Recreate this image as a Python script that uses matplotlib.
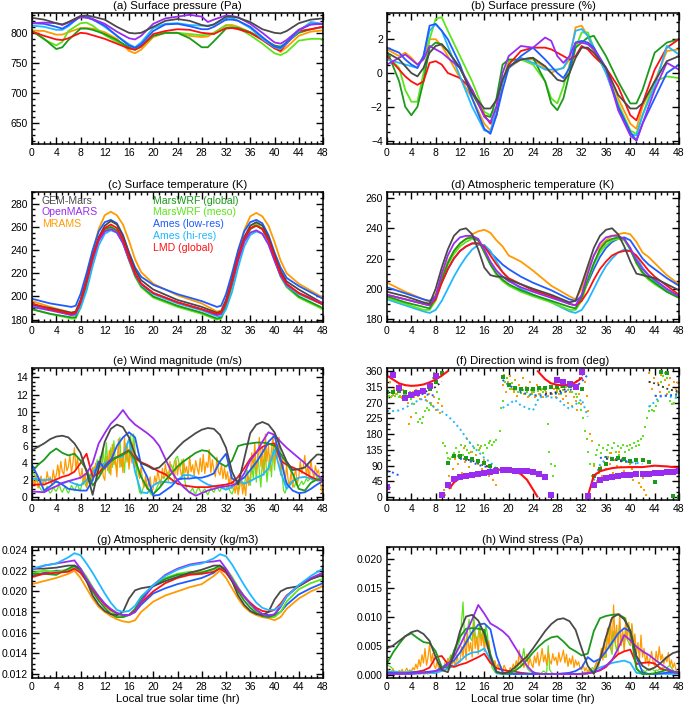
import numpy as np
import matplotlib
matplotlib.use("Agg")
import matplotlib.pyplot as plt
from matplotlib.ticker import AutoMinorLocator, FormatStrFormatter

plt.rcParams['font.family'] = ['Liberation Sans', 'DejaVu Sans']
plt.rcParams['font.size'] = 7.5

# model names and colours
models = ['GEM-Mars', 'OpenMARS', 'MRAMS', 'MarsWRF (global)', 'MarsWRF (meso)',
          'Ames (low-res)', 'Ames (hi-res)', 'LMD (global)']
c_gem, c_omars, c_mrams = '#4a4a4a', '#9a2cf0', '#ff9a00'
c_wrfg, c_wrfm = '#1b9a1b', '#5ce51c'
c_amesl, c_amesh, c_lmd = '#1f5cff', '#20b8ff', '#ff1010'

t1 = np.arange(0, 49, 1)        # hourly output
tq = np.arange(0, 48.1, 0.25)   # quarter-hourly output (mesoscale runs)

# (a) surface pressure (Pa)
psa_t = [0, 2, 4, 5, 6, 8, 9, 10, 12, 14, 16, 17, 18, 20, 22, 24, 26, 28, 29, 30, 32, 33, 34, 36, 38, 40, 41, 42, 44, 46, 48]
psa_gem = [825, 822, 816, 814, 818, 828, 829, 827, 822, 810, 800, 799, 800, 810, 820, 823, 820, 813, 811, 814, 827, 827, 825, 818, 806, 800, 799, 803, 816, 822, 824]
psa_omars = [816, 817, 816, 813, 817, 826, 825, 823, 815, 802, 791, 789, 795, 815, 824, 827, 830, 827, 818, 822, 829, 828, 826, 815, 800, 784, 782, 788, 805, 814, 815]
psa_mrams = [804, 803, 797, 797, 801, 808, 808, 807, 801, 790, 770, 766, 772, 793, 800, 800, 795, 793, 794, 800, 813, 813, 810, 801, 790, 776, 768, 776, 795, 802, 804]
psa_wrfg = [803, 790, 773, 776, 788, 807, 807, 805, 798, 788, 776, 772, 778, 795, 800, 800, 791, 776, 776, 786, 807, 808, 808, 801, 790, 779, 777, 784, 800, 806, 810]
psa_wrfm = [804, 789, 779, 785, 803, 816, 817, 812, 796, 785, 774, 772, 777, 795, 800, 800, 798, 796, 797, 800, 812, 811, 808, 796, 782, 766, 763, 768, 787, 790, 790]
psa_amesl = [816, 815, 810, 807, 813, 827, 826, 822, 812, 795, 779, 775, 781, 803, 814, 815, 811, 806, 806, 810, 822, 822, 820, 810, 793, 777, 775, 784, 805, 814, 815]
psa_amesh = [812, 810, 805, 805, 811, 828, 828, 823, 810, 795, 781, 776, 784, 808, 815, 816, 813, 812, 812, 814, 825, 825, 820, 808, 790, 776, 773, 783, 803, 818, 815]
psa_lmd = [802, 795, 789, 788, 791, 800, 799, 796, 790, 782, 774, 772, 777, 798, 803, 806, 805, 800, 799, 798, 808, 808, 806, 800, 788, 774, 770, 782, 803, 806, 810]

# (b) surface pressure (%)
psp_t = [0, 2, 3, 4, 5, 6, 7, 8, 9, 10, 12, 14, 16, 17, 18, 19, 20, 22, 24, 26, 27, 28, 29, 30, 31, 32, 33, 34, 36, 38, 40, 41, 42, 44, 46, 48]
psp_gem = [1.2, 0.8, 0.4, 0.0, -0.2, 0.3, 1.2, 1.6, 1.7, 1.3, 0.3, -1.2, -2.1, -2.1, -1.6, -0.4, 0.4, 0.8, 0.9, 0.4, 0.0, -0.4, -0.5, 0.0, 0.9, 1.5, 1.5, 1.2, 0.3, -1.3, -2.1, -2.1, -1.8, -0.5, 0.7, 1.0]
psp_omars = [0.5, 0.9, 1.1, 0.8, 0.5, 0.8, 1.6, 1.4, 1.2, 0.9, 0.3, -1.0, -2.6, -2.9, -2.0, 0.0, 1.0, 1.6, 1.5, 2.1, 1.9, 1.0, 0.6, 1.0, 1.8, 1.8, 1.7, 1.4, 0.3, -2.2, -3.7, -4.0, -3.0, -1.0, 0.6, 0.2]
psp_mrams = [1.4, 1.0, 1.2, 0.9, 0.5, 0.9, 2.0, 2.0, 1.6, 1.0, -0.3, -1.5, -3.0, -3.4, -2.5, -0.5, 0.3, 0.8, 0.8, 0.3, 0.0, 0.2, 0.3, 0.8, 2.7, 2.8, 2.2, 1.2, 0.3, -1.5, -3.0, -3.3, -2.0, -0.5, 1.3, 1.4]
psp_wrfg = [1.3, -0.5, -2.0, -2.5, -2.0, -0.5, 1.5, 1.8, 1.7, 1.3, 0.3, -1.2, -2.5, -2.6, -1.5, 0.5, 0.8, 0.8, 0.9, -0.5, -1.8, -2.2, -1.5, 0.0, 1.5, 1.8, 2.1, 2.2, 1.0, -0.5, -1.8, -1.8, -1.0, 1.2, 1.8, 2.0]
psp_wrfm = [1.0, 0.3, -1.0, -1.7, -1.7, 0.0, 2.0, 3.2, 3.3, 2.5, 1.0, -0.5, -2.3, -2.5, -2.0, -0.5, 0.7, 0.8, 0.5, -0.5, -1.5, -1.8, -0.8, 0.5, 1.5, 2.4, 2.4, 1.5, 0.0, -1.8, -3.4, -3.6, -2.5, -0.5, -0.2, -0.3]
psp_amesl = [1.5, 1.2, 0.8, 0.5, 0.3, 1.0, 2.8, 2.9, 2.5, 2.0, 0.5, -1.5, -3.3, -3.6, -2.5, -1.0, 0.3, 1.0, 1.5, 0.8, 0.4, 0.0, -0.3, 0.3, 1.8, 1.9, 1.8, 1.5, 0.3, -2.0, -3.5, -4.0, -3.0, -1.5, 0.0, 0.5]
psp_amesh = [0.8, 0.6, 0.5, 0.4, 0.3, 1.0, 2.5, 2.9, 2.5, 1.6, -0.2, -2.0, -3.4, -3.5, -2.0, -0.5, 0.3, 0.9, 0.6, 0.2, 0.2, 0.2, 0.3, 1.0, 2.5, 2.6, 2.2, 1.5, 0.0, -2.0, -3.6, -3.7, -2.5, -0.8, 1.6, 1.1]
psp_lmd = [1.0, 0.2, -0.2, -0.5, -0.7, -0.5, 0.6, 0.7, 0.5, 0.0, -0.3, -1.0, -2.5, -3.0, -2.5, -0.5, 0.5, 1.3, 1.5, 1.5, 1.4, 1.2, 1.0, 0.8, 1.0, 1.6, 1.4, 1.0, 0.3, -0.8, -2.5, -2.8, -1.8, 0.2, 1.5, 2.0]

# (c) surface temperature (K)
tsf_t = [0, 3, 6.5, 7.2, 8, 9, 10, 11, 12, 13, 14, 15, 16, 17, 18, 20, 24, 28, 30.5, 31.2, 32, 33, 34, 35, 36, 37, 38, 39, 40, 41, 42, 44, 48]
tsf_gem = [193, 190, 186, 187, 197, 215, 235, 251, 261, 265, 262, 252, 237, 223, 214, 206, 197, 191, 186, 187, 197, 215, 235, 251, 261, 264, 261, 251, 236, 222, 213, 206, 194]
tsf_omars = [191, 188, 184, 185, 195, 213, 232, 248, 256, 258, 255, 246, 232, 219, 211, 203, 195, 189, 184, 185, 195, 212, 231, 247, 255, 257, 254, 245, 231, 218, 210, 203, 194]
tsf_mrams = [196, 191, 186, 187, 196, 214, 238, 258, 270, 273, 270, 262, 248, 232, 221, 211, 201, 194, 187, 188, 197, 215, 238, 257, 269, 272, 269, 261, 247, 231, 220, 211, 199]
tsf_wrfg = [189, 185, 182, 182, 192, 211, 232, 249, 258, 260, 257, 247, 232, 218, 209, 200, 192, 186, 181, 182, 192, 211, 232, 248, 258, 261, 258, 248, 232, 218, 209, 200, 190]
tsf_wrfm = [189, 185, 181, 181, 190, 209, 231, 248, 257, 259, 256, 246, 231, 217, 208, 199, 191, 185, 180, 181, 190, 209, 231, 248, 258, 263, 258, 248, 232, 217, 208, 199, 189]
tsf_amesl = [198, 194, 191, 192, 202, 220, 240, 256, 264, 266, 263, 253, 238, 225, 217, 210, 202, 196, 191, 192, 202, 220, 240, 256, 264, 266, 263, 253, 238, 225, 216, 209, 198]
tsf_amesh = [192, 189, 184, 184, 190, 205, 226, 244, 254, 257, 255, 246, 232, 219, 210, 202, 194, 188, 183, 183, 189, 204, 225, 243, 253, 256, 254, 245, 231, 218, 209, 202, 193]
tsf_lmd = [194, 189, 185, 186, 195, 213, 234, 250, 259, 262, 259, 249, 234, 220, 211, 203, 195, 189, 185, 186, 195, 213, 234, 250, 259, 261, 258, 249, 234, 220, 211, 203, 193]

# (d) atmospheric temperature (K)
tat_t = [0, 3, 6, 7, 8, 9, 10, 11, 12, 13, 14, 15, 16, 17, 18, 19, 20, 22, 24, 27, 30, 31, 32, 33, 34, 35, 36, 37, 38, 39, 40, 41, 42, 43, 44, 46, 48]
tat_gem = [198, 195, 191, 190, 200, 214, 226, 235, 239, 240, 236, 226, 214, 209, 208, 208, 206, 203, 200, 196, 191, 192, 203, 215, 227, 235, 239, 240, 236, 228, 218, 210, 209, 208, 207, 203, 199]
tat_omars = [196, 193, 190, 189, 195, 210, 222, 230, 234, 235, 235, 233, 226, 218, 212, 208, 205, 201, 198, 194, 190, 189, 196, 210, 222, 230, 234, 235, 235, 233, 227, 219, 213, 209, 206, 200, 195]
tat_mrams = [204, 198, 193, 191, 196, 208, 218, 225, 230, 233, 236, 238, 239, 237, 232, 228, 222, 218, 212, 202, 195, 193, 200, 213, 222, 228, 232, 235, 236, 237, 236, 231, 224, 221, 217, 209, 203]
tat_wrfg = [195, 191, 188, 187, 194, 206, 217, 225, 230, 233, 234, 232, 224, 216, 210, 206, 203, 199, 196, 192, 188, 187, 194, 206, 217, 226, 231, 233, 234, 233, 226, 217, 211, 207, 204, 198, 194]
tat_wrfm = [194, 190, 186, 186, 192, 205, 216, 223, 228, 231, 233, 232, 225, 216, 209, 205, 202, 198, 195, 191, 186, 186, 192, 205, 216, 224, 229, 232, 233, 232, 226, 217, 210, 206, 203, 198, 194]
tat_amesl = [201, 197, 193, 192, 195, 204, 213, 220, 225, 228, 230, 230, 228, 224, 220, 216, 213, 208, 204, 199, 193, 192, 195, 204, 213, 221, 227, 231, 233, 234, 232, 226, 220, 216, 213, 207, 202]
tat_amesh = [193, 189, 185, 184, 186, 192, 200, 208, 215, 221, 226, 229, 229, 225, 218, 211, 206, 200, 196, 191, 185, 184, 186, 192, 200, 208, 215, 220, 224, 226, 225, 221, 214, 209, 205, 199, 195]
tat_lmd = [196, 193, 190, 189, 193, 204, 213, 220, 225, 228, 230, 230, 228, 222, 216, 211, 207, 203, 199, 195, 190, 189, 192, 198, 206, 213, 218, 222, 224, 225, 225, 222, 217, 212, 208, 202, 196]

# (e) wind magnitude (m/s): hourly, the two noisy runs quarter-hourly
wnd_gem = [5.5, 5.9, 6.3, 6.8, 7.1, 7.2, 7.0, 6.3, 5.2, 3.0, 0.3, 3.5, 6.5, 8.0, 8.5, 8.2, 7.0, 5.0, 4.0, 3.7, 3.3, 3.5, 4.2, 5.0, 5.8, 6.5, 7.0, 7.5, 7.9, 8.1, 8.0, 7.3, 5.8, 3.0, 1.5, 4.5, 7.5, 8.5, 8.8, 8.5, 7.6, 5.8, 4.2, 3.2, 3.3, 3.5, 4.3, 5.0, 5.0]
wnd_omars = [0.7, 0.65, 0.6, 1.0, 1.3, 1.7, 1.9, 2.1, 2.3, 2.8, 4.0, 6.3, 7.5, 8.6, 9.3, 10.2, 9.2, 8.5, 8.0, 7.5, 6.9, 6.0, 4.5, 3.0, 2.0, 1.2, 0.6, 0.2, 0.5, 0.8, 1.0, 1.2, 1.3, 1.4, 1.7, 2.8, 4.3, 5.2, 6.5, 7.6, 7.3, 6.5, 5.8, 5.2, 4.6, 4.0, 3.3, 2.6, 2.1]
wnd_mrams = [1.2, 2.0, 1.5, 2.8, 1.1, 1.8, 2.5, 1.3, 2.2, 1.6, 3.0, 1.9, 2.4, 1.4, 3.2, 2.1,
             2.6, 3.8, 2.4, 4.2, 3.0, 2.7, 4.5, 3.1, 3.6, 4.9, 2.9, 4.0, 5.8, 3.3, 4.6, 3.0,
             2.2, 3.4, 1.5, 2.8, 1.2, 3.0, 2.1, 1.6, 3.5, 2.4, 4.0, 2.2, 3.2, 2.7, 4.2, 2.5,
             2.0, 4.8, 3.1, 5.5, 2.6, 6.2, 3.8, 4.4, 2.4, 6.8, 3.5, 5.0, 2.9, 7.2, 4.1, 6.0,
             3.3, 5.4, 4.0, 6.3, 3.5, 4.6, 3.0, 2.2, 3.6, 1.8, 1.2, 2.6, 0.9, 1.7, 2.4, 0.6,
             1.1, 2.5, 1.6, 3.2, 2.0, 1.4, 3.4, 2.3, 3.9, 2.6, 1.9, 4.2, 2.8, 3.3, 2.1, 4.4,
             2.6, 4.0, 3.1, 2.3, 4.5, 2.9, 3.6, 2.2, 4.8, 3.0, 3.8, 2.5, 4.3, 3.4, 2.7, 4.6,
             3.0, 5.0, 2.8, 4.1, 3.5, 5.6, 2.9, 4.4, 3.2, 2.4, 4.7, 3.0, 2.6, 3.9, 2.2, 3.5,
             2.1, 3.0, 1.5, 2.6, 1.0, 2.0, 0.5, 1.6, 0.3, 1.2, 2.2, 0.4, 1.8, 0.2, 2.6, 1.4,
             2.5, 5.2, 3.4, 6.4, 2.8, 4.6, 7.0, 3.6, 5.8, 2.9, 7.4, 4.2, 6.1, 3.1, 5.5, 7.2,
             3.8, 6.5, 4.4, 7.0, 2.6, 5.0, 3.4, 1.8, 3.8, 2.0, 1.4, 3.1, 1.2, 2.5, 3.3, 1.6,
             2.3, 4.2, 2.8, 3.6, 4.9, 2.5, 3.8, 2.1, 4.4, 3.0, 2.4, 3.7, 2.8, 3.2, 2.0, 1.0, 0.2]
wnd_wrfg = [3.0, 3.8, 4.4, 5.2, 5.7, 5.2, 4.9, 5.1, 4.3, 3.2, 1.4, 2.3, 3.6, 4.2, 4.7, 5.0, 5.4, 4.4, 2.4, 1.1, 0.4, 1.1, 2.0, 2.8, 3.6, 4.2, 4.7, 5.2, 5.5, 5.4, 4.7, 4.0, 3.6, 4.3, 6.0, 6.2, 6.3, 6.4, 6.4, 6.3, 6.0, 5.1, 4.0, 2.8, 1.0, 0.8, 1.7, 2.1, 2.2]
wnd_wrfm = [3.0, 2.8, 2.5, 2.0, 1.6, 1.2, 0.9, 0.7, 0.6, 0.9, 1.3, 0.8, 0.5, 0.7, 1.2, 0.9,
            0.7, 1.1, 1.5, 0.9, 0.6, 1.0, 1.3, 0.8, 0.5, 0.9, 1.4, 1.1, 0.8, 1.2, 1.6, 1.0,
            0.9, 1.5, 2.3, 1.6, 1.2, 2.0, 2.6, 1.8, 2.5, 3.6, 2.8, 4.4, 3.0, 4.8, 3.4, 5.6,
            3.2, 6.4, 4.0, 2.8, 5.8, 3.5, 6.6, 4.2, 3.1, 5.4, 7.0, 3.6, 4.8, 2.9, 6.3, 4.4,
            3.8, 7.2, 5.0, 7.4, 5.5, 3.0, 1.5, 0.6, 0.4, 0.9, 1.6, 2.0, 1.4, 0.8, 0.5, 0.3,
            0.3, 0.6, 1.0, 1.4, 1.7, 2.0, 2.4, 2.2, 2.6, 3.0, 2.5, 3.4, 3.8, 3.2, 4.2, 4.6,
            4.8, 4.0, 3.6, 4.4, 3.0, 1.8, 1.0, 0.7, 0.5, 0.8, 1.1, 0.6, 0.4, 0.9, 1.2, 0.7,
            0.5, 0.8, 1.0, 0.6, 0.3, 0.7, 1.1, 0.8, 0.6, 1.0, 1.3, 0.9, 0.7, 1.1, 1.5, 1.0,
            0.9, 1.3, 1.0, 0.6, 0.4, 0.9, 1.5, 1.2, 0.8, 1.8, 2.4, 1.5, 1.0, 2.6, 3.2, 2.0,
            1.4, 3.8, 2.2, 4.6, 1.8, 5.2, 3.0, 1.2, 4.4, 2.6, 5.6, 1.8, 3.6, 5.0, 2.4, 5.8,
            3.2, 6.0, 4.6, 6.6, 5.0, 2.6, 0.8, 0.5, 1.2, 1.8, 1.4, 1.9, 1.5, 1.2, 1.7, 1.4,
            1.3, 1.6, 1.9, 1.5, 1.8, 2.2, 1.9, 2.1, 2.4, 2.0, 2.6, 2.8, 2.3, 2.5, 2.2, 2.0, 2.0]
wnd_amesl = [3.8, 2.4, 0.8, 1.3, 1.9, 1.5, 1.0, 0.9, 0.8, 0.8, 2.0, 4.2, 3.4, 4.3, 6.0, 7.0, 7.6, 7.0, 3.8, 2.4, 0.2, 0.3, 0.8, 1.3, 2.1, 2.2, 2.2, 2.3, 2.3, 2.5, 2.8, 4.2, 5.1, 2.2, 1.9, 2.3, 3.2, 4.1, 5.2, 6.5, 7.2, 4.5, 1.6, 0.8, 0.5, 0.6, 1.0, 1.5, 1.9]
wnd_amesh = [2.2, 2.1, 2.0, 2.1, 1.8, 1.6, 1.9, 1.6, 1.4, 2.0, 3.0, 3.5, 4.0, 4.4, 4.7, 4.8, 6.8, 3.0, 0.6, 0.5, 1.4, 1.8, 1.8, 1.7, 2.0, 2.6, 2.6, 2.4, 1.9, 1.5, 1.3, 1.2, 0.9, 1.2, 2.0, 1.6, 1.9, 2.3, 2.6, 3.4, 5.6, 3.0, 1.0, 1.9, 2.3, 2.4, 2.2, 2.0, 2.0]
wnd_lmd = [1.5, 1.5, 1.5, 1.8, 2.1, 2.4, 2.6, 3.0, 4.0, 5.1, 2.4, 2.8, 3.7, 4.4, 4.7, 5.1, 5.5, 4.6, 4.1, 3.8, 3.4, 3.0, 2.7, 2.1, 1.6, 1.4, 1.3, 1.2, 1.2, 1.2, 1.3, 1.4, 1.5, 1.7, 2.4, 3.4, 4.5, 5.3, 5.9, 6.2, 6.3, 4.3, 3.8, 3.5, 3.2, 2.8, 2.4, 2.1, 2.0]

# (f) direction wind is from (deg)
nan = np.nan
dir_lmd_t = [0, 1, 2, 3, 4, 5, 6, 7, 8, 9, 10, 10.1, 10.3, 11, 12, 13, 14, 15, 16, 17, 18, 19, 20, 21, 22, 23, 24, 24.7, 24.75,
             24.8, 25.3, 26, 27, 28, 29, 30, 31, 32, 32.5, 33, 34, 35, 36, 37, 38, 40, 42, 44, 46, 48]
dir_lmd = [347, 336, 325, 320, 318, 319, 322, 328, 336, 347, 360, nan, 26, 42, 55, 60, 64, 67, 70, 74, 78, 79, 77, 74, 66, 50, 22, 2, nan,
           360, 350, 337, 325, 321, 320, 321, 328, 340, nan, 2, 62, 74, 79, 83, 85, 86, 86, 90, 88, 84]
dir_omars = [30, 350, 312, 283, 292, 298, 303, 318, 345, 5, 36, 52, 58, 61, 64, 66, 69, 72, 75, 77, 77, 76, 76, 75, 72, 65, 58, 7,
             335, 330, 322, 316, 358, 3, 34, 50, 56, 58, 60, 62, 64, 66, 67, 67, 68, 70, 71, 72, 74]
dir_wrfg = [300, 300, 303, 300, 296, 300, 305, 310, 328, 355, 98, 117, 118, 113, 108, 104, 97, 90, 80, 343, 320, 313, 309, 308, 309,
            311, 313, 314, 316, 318, 318, 314, 308, nan, 60, 80, 95, 110, 112, 108, 104, 106, 107, 100, 42, 358, 355, 2, 0]
dir_amesh = [246, 246, 248, 255, 266, 275, 282, 270, 252, 245, 232, 215, 195, 170, 148, 130, 112, 100, 80, 255, 265, 278, 262, 255, 248,
             285, 287, 285, 283, 265, 252, 265, 280, 230, 48, 92, 110, 112, 106, 102, 100, 98, 95, 258, 272, 290, 290, 285, 282]
dir_amesl = [75, 70, 62, nan, 290, 292, 295, 292, 290, nan, nan, nan, 110, 106, 100, 92, 88, 84, 80, 335, 320, 310, 300, 295, 292,
             290, 292, 295, 296, 300, 305, 315, 330, 350, nan, 112, 115, 112, 108, 104, 100, 96, nan, nan, 290, 288, 290, 292, 295]
dir_gem = [nan, nan, nan, nan, 295, 297, 300, 305, 315, 330, nan, 115, 112, 108, 104, 98, 90, 85, nan, nan, nan, nan, nan, nan, nan,
           nan, 295, 298, 300, 306, 315, 328, 345, nan, nan, nan, 110, 108, 105, 100, nan, nan, nan, 330, 325, 318, 310, 305, 302]
dir_mrams_t = [0.2, 0.5, 0.8, 1.2, 1.5, 2.0, 2.3, 2.7, 3.0, 3.4, 3.6, 3.9, 4.2, 4.5, 4.8, 5.1, 5.5, 5.8, 6.2, 6.5, 6.9, 7.2, 7.5, 7.8, 8.1, 8.4, 8.7, 9.0, 9.3, 9.6, 9.9,
               10.2, 10.5, 10.8, 11.1, 11.4, 11.7, 12.0, 12.3, 12.6, 12.9, 13.2, 13.5, 13.8, 14.1, 14.4, 14.7, 15.0, 15.3, 15.6, 15.9, 16.2, 16.5, 16.8, 17.1, 17.4, 17.7, 18.0,
               19.0, 19.3, 19.6, 19.9, 20.2, 20.5, 20.8, 21.1, 21.4, 21.7, 22.0, 22.3, 22.6, 22.9, 23.2, 23.5, 23.8, 24.1, 24.4, 24.7, 25.0, 25.3, 25.6, 25.9, 26.2, 26.5, 26.8,
               27.1, 27.4, 27.7, 28.0, 28.3, 28.6, 28.9, 29.2, 29.5, 29.8, 30.1, 30.4, 30.7, 31.0, 31.3, 31.6, 31.9, 32.2, 32.5, 32.8, 33.1, 33.4, 33.7, 34.0,
               34.5, 34.8, 35.1, 35.4, 35.7, 36.0, 36.3, 36.6, 36.9, 37.2, 37.5, 37.8, 38.1, 38.4, 38.7, 39.0, 39.3, 39.6, 39.9, 40.2, 40.5, 40.8, 41.1, 41.4, 41.7, 42.0, 42.3, 42.6,
               43.0, 43.3, 43.6, 43.9, 44.2, 44.5, 44.8, 45.1, 45.4, 45.7, 46.0, 46.3, 46.6, 46.9, 47.2, 47.5, 47.8]
dir_mrams = [300, 330, 290, 310, 295, 320, 285, 305, 290, 270, 210, 230, 300, 285, 305, 290, 280, 300, 285, 275, 295, 270, 260, 285, 250, 270, 240, 260, 20, 5, 40,
             60, 25, 80, 110, 45, 95, 120, 70, 140, 100, 165, 85, 130, 110, 60, 120, 95, 140, 80, 105, 70, 90, 60, 85, 50, 75, 35,
             320, 350, 300, 330, 345, 310, 300, 335, 290, 320, 305, 340, 295, 315, 285, 330, 300, 310, 285, 320, 295, 305, 285, 315, 300, 290, 325,
             295, 310, 285, 305, 295, 315, 280, 300, 290, 270, 300, 260, 285, 275, 250, 295, 265, 310, 330, 290, 245, 180, 160, 90,
             45, 70, 85, 60, 100, 80, 115, 95, 125, 70, 105, 90, 130, 85, 110, 75, 100, 60, 95, 80, 50, 110, 70, 40, 30, 55, 20, 5,
             355, 330, 310, 340, 290, 325, 300, 350, 315, 335, 295, 320, 340, 305, 330, 310, 325]
dir_wrfm_t = [0.1, 0.4, 0.7, 1.0, 1.3, 1.6, 1.9, 2.2, 2.5, 2.8, 3.1, 3.4, 3.7, 4.0, 4.4, 4.8, 5.1, 5.4, 5.7, 6.0, 6.3, 6.6, 6.9, 7.2, 7.5, 7.8, 8.2, 8.5,
              9.2, 9.5, 9.8, 10.1, 10.4, 10.7, 11.0, 11.3, 11.6, 11.9, 12.2, 12.5, 12.8, 13.1, 13.4, 13.7, 14.0, 14.3, 14.6, 14.9, 15.2, 15.5, 15.8, 16.1, 16.4, 16.7, 17.0, 17.3, 17.6, 18.0,
              18.5, 18.8, 19.1, 19.4, 19.7, 20.0, 20.3, 20.6, 20.9, 21.2, 21.5, 21.8, 22.1, 22.4, 22.7, 23.0, 23.3, 23.6, 23.9, 24.2, 24.5, 24.8, 25.1, 25.4, 25.7, 26.0,
              26.4, 26.7, 27.0, 27.3, 27.6, 28.0, 28.3, 28.6, 28.9, 29.2, 29.5, 29.8, 30.1, 30.4, 30.7, 31.0, 31.3, 31.6, 31.9, 32.2, 32.5, 32.8, 33.1, 33.4, 33.7,
              34.0, 34.3, 34.6, 34.9, 35.2, 35.5, 35.8, 36.1, 36.4, 36.7, 37.0, 37.3, 37.6, 37.9, 38.2, 38.5, 38.8, 39.1, 39.4, 39.7, 40.0, 40.3, 40.6, 40.9, 41.2, 41.5, 41.8,
              42.1, 42.4, 42.7, 43.0, 43.3, 43.6, 43.9, 44.2, 44.5, 44.8, 45.1, 45.4, 45.7, 46.0, 46.3, 46.6, 46.9, 47.2, 47.5, 47.8]
dir_wrfm = [285, 290, 286, 292, 288, 295, 287, 290, 284, 292, 296, 288, 300, 280, 265, 240, 215, 222, 212, 230, 245, 255, 250, 262, 340, 355, 300, 280,
            155, 145, 125, 112, 110, 115, 125, 140, 118, 130, 150, 120, 145, 135, 125, 155, 130, 140, 120, 150, 135, 145, 125, 150, 140, 155, 160, 150, 158, 162,
            190, 255, 275, 330, 340, 320, 310, 325, 305, 315, 300, 310, 298, 305, 295, 300, 290, 305, 295, 300, 290, 302, 296, 308, 300, 305,
            210, 130, 95, 60, 90, 300, 310, 295, 305, 300, 315, 305, 320, 300, 310, 295, 285, 270, 250, 225, 190, 165, 130, 95, 60,
            95, 120, 135, 150, 125, 140, 115, 135, 150, 125, 140, 155, 130, 145, 120, 140, 150, 130, 145, 135, 150, 140, 155, 145, 160, 150, 165,
            175, 200, 225, 245, 260, 250, 245, 260, 275, 300, 330, 345, 355, 340, 300, 275, 265, 270, 290, 300]

# (g) atmospheric density (kg/m3)
rho_t = [0, 2, 4, 6, 7, 8, 9, 10, 11, 12, 13, 14, 15, 16, 17, 18, 20, 22, 24, 26, 28, 30, 31, 32, 33, 34, 35, 36, 37, 38, 39, 40, 41, 42, 44, 46, 48]
rho_gem = [0.0222, 0.0222, 0.0223, 0.0225, 0.0225, 0.0222, 0.0210, 0.0196, 0.0187, 0.0181, 0.0178, 0.0177, 0.0180, 0.0193, 0.0201, 0.0203, 0.0205, 0.0210, 0.0214, 0.0218, 0.0221, 0.0225, 0.0225, 0.0220, 0.0210, 0.0196, 0.0187, 0.0181, 0.0178, 0.0177, 0.0180, 0.0192, 0.0200, 0.0203, 0.0205, 0.0212, 0.0216]
rho_omars = [0.0221, 0.0225, 0.0227, 0.0229, 0.0230, 0.0222, 0.0212, 0.0203, 0.0195, 0.0188, 0.0183, 0.0179, 0.0177, 0.0177, 0.0180, 0.0190, 0.0206, 0.0216, 0.0222, 0.0226, 0.0228, 0.0229, 0.0230, 0.0222, 0.0212, 0.0203, 0.0195, 0.0188, 0.0182, 0.0178, 0.0176, 0.0178, 0.0185, 0.0195, 0.0206, 0.0213, 0.0218]
rho_mrams = [0.0207, 0.0210, 0.0213, 0.0217, 0.0220, 0.0213, 0.0203, 0.0193, 0.0185, 0.0180, 0.0176, 0.0173, 0.0171, 0.0170, 0.0172, 0.0180, 0.0190, 0.0196, 0.0200, 0.0204, 0.0207, 0.0215, 0.0220, 0.0213, 0.0203, 0.0193, 0.0185, 0.0180, 0.0177, 0.0175, 0.0174, 0.0172, 0.0175, 0.0183, 0.0193, 0.0200, 0.0205]
rho_wrfg = [0.0217, 0.0217, 0.0216, 0.0222, 0.0225, 0.0220, 0.0210, 0.0200, 0.0191, 0.0184, 0.0178, 0.0175, 0.0175, 0.0177, 0.0183, 0.0193, 0.0205, 0.0212, 0.0216, 0.0217, 0.0218, 0.0222, 0.0225, 0.0220, 0.0210, 0.0200, 0.0191, 0.0184, 0.0179, 0.0176, 0.0175, 0.0177, 0.0185, 0.0195, 0.0206, 0.0212, 0.0216]
rho_wrfm = [0.0218, 0.0220, 0.0219, 0.0221, 0.0224, 0.0222, 0.0214, 0.0204, 0.0195, 0.0187, 0.0181, 0.0177, 0.0176, 0.0177, 0.0182, 0.0192, 0.0206, 0.0213, 0.0217, 0.0219, 0.0219, 0.0221, 0.0224, 0.0222, 0.0214, 0.0204, 0.0195, 0.0187, 0.0181, 0.0177, 0.0175, 0.0175, 0.0180, 0.0190, 0.0202, 0.0208, 0.0212]
rho_amesl = [0.0215, 0.0218, 0.0220, 0.0220, 0.0224, 0.0220, 0.0212, 0.0203, 0.0195, 0.0188, 0.0182, 0.0178, 0.0177, 0.0177, 0.0180, 0.0187, 0.0198, 0.0203, 0.0207, 0.0210, 0.0213, 0.0218, 0.0224, 0.0220, 0.0212, 0.0203, 0.0195, 0.0188, 0.0182, 0.0178, 0.0177, 0.0177, 0.0180, 0.0187, 0.0197, 0.0203, 0.0208]
rho_amesh = [0.0222, 0.0225, 0.0227, 0.0233, 0.0237, 0.0235, 0.0227, 0.0218, 0.0208, 0.0198, 0.0189, 0.0182, 0.0180, 0.0181, 0.0186, 0.0195, 0.0206, 0.0215, 0.0221, 0.0225, 0.0227, 0.0232, 0.0236, 0.0234, 0.0226, 0.0216, 0.0206, 0.0197, 0.0189, 0.0184, 0.0182, 0.0182, 0.0186, 0.0195, 0.0206, 0.0215, 0.0222]
rho_lmd = [0.0214, 0.0217, 0.0218, 0.0219, 0.0222, 0.0218, 0.0210, 0.0202, 0.0194, 0.0187, 0.0182, 0.0179, 0.0177, 0.0177, 0.0181, 0.0189, 0.0200, 0.0208, 0.0213, 0.0216, 0.0217, 0.0219, 0.0222, 0.0218, 0.0210, 0.0202, 0.0195, 0.0189, 0.0184, 0.0181, 0.0180, 0.0182, 0.0188, 0.0196, 0.0205, 0.0212, 0.0218]

# (h) wind stress (Pa)
tau_gem = [0.0045, 0.0050, 0.0058, 0.0066, 0.0073, 0.0076, 0.0070, 0.0058, 0.0030, 0.0008, 0.0004, 0.0035, 0.0075, 0.0100, 0.0103, 0.0093, 0.0070, 0.0030, 0.0005, 0.0002, 0.0004, 0.0012, 0.0022, 0.0031, 0.0045, 0.0060, 0.0075, 0.0087, 0.0095, 0.0097, 0.0092, 0.0077, 0.0045, 0.0015, 0.0001, 0.0025, 0.0065, 0.0098, 0.0104, 0.0095, 0.0075, 0.0032, 0.0015, 0.0008, 0.0012, 0.0020, 0.0030, 0.0037, 0.0040]
tau_omars = [0.0001, 0.0001, 0.0001, 0.0001, 0.0001, 0.0002, 0.0003, 0.0004, 0.0006, 0.0009, 0.0017, 0.0030, 0.0050, 0.0072, 0.0095, 0.0120, 0.0105, 0.0088, 0.0082, 0.0075, 0.0065, 0.0048, 0.0031, 0.0015, 0.0004, 0.0001, 0.0001, 0.0001, 0.0001, 0.0001, 0.0001, 0.0001, 0.0001, 0.0002, 0.0004, 0.0008, 0.0015, 0.0025, 0.0045, 0.0068, 0.0059, 0.0048, 0.0040, 0.0034, 0.0026, 0.0018, 0.0011, 0.0005, 0.0003]
tau_mrams = [0.0003, 0.0008, 0.0002, 0.0005, 0.0010, 0.0003, 0.0006, 0.0001, 0.0007, 0.0004, 0.0009, 0.0002, 0.0006, 0.0011, 0.0004, 0.0008,
             0.0005, 0.0012, 0.0008, 0.0018, 0.0010, 0.0026, 0.0014, 0.0034, 0.0020, 0.0045, 0.0016, 0.0030, 0.0052, 0.0022, 0.0036, 0.0015,
             0.0010, 0.0024, 0.0008, 0.0018, 0.0012, 0.0006, 0.0020, 0.0011, 0.0028, 0.0015, 0.0032, 0.0018, 0.0025, 0.0014, 0.0034, 0.0020,
             0.0022, 0.0048, 0.0030, 0.0062, 0.0025, 0.0072, 0.0040, 0.0055, 0.0030, 0.0088, 0.0045, 0.0065, 0.0035, 0.0080, 0.0050, 0.0070,
             0.0040, 0.0064, 0.0045, 0.0058, 0.0032, 0.0022, 0.0015, 0.0024, 0.0010, 0.0018, 0.0008, 0.0014, 0.0006, 0.0016, 0.0010, 0.0005,
             0.0004, 0.0012, 0.0008, 0.0018, 0.0010, 0.0024, 0.0014, 0.0042, 0.0016, 0.0030, 0.0012, 0.0022, 0.0035, 0.0015, 0.0028, 0.0018,
             0.0012, 0.0032, 0.0020, 0.0038, 0.0015, 0.0028, 0.0045, 0.0022, 0.0034, 0.0016, 0.0040, 0.0025, 0.0018, 0.0036, 0.0024, 0.0030,
             0.0016, 0.0038, 0.0022, 0.0030, 0.0042, 0.0020, 0.0035, 0.0014, 0.0028, 0.0018, 0.0032, 0.0012, 0.0025, 0.0016, 0.0022, 0.0010,
             0.0008, 0.0018, 0.0006, 0.0012, 0.0004, 0.0010, 0.0003, 0.0008, 0.0006, 0.0016, 0.0024, 0.0012, 0.0030, 0.0045, 0.0025, 0.0060,
             0.0030, 0.0080, 0.0045, 0.0095, 0.0040, 0.0120, 0.0055, 0.0085, 0.0035, 0.0105, 0.0050, 0.0075, 0.0040, 0.0098, 0.0060, 0.0090,
             0.0050, 0.0088, 0.0045, 0.0070, 0.0035, 0.0055, 0.0025, 0.0068, 0.0030, 0.0045, 0.0020, 0.0035, 0.0015, 0.0028, 0.0040, 0.0020,
             0.0015, 0.0040, 0.0022, 0.0048, 0.0025, 0.0035, 0.0018, 0.0030, 0.0022, 0.0038, 0.0015, 0.0025, 0.0012, 0.0020, 0.0008, 0.0004, 0.0002]
tau_wrfg = [0.0019, 0.0038, 0.0053, 0.0066, 0.0071, 0.0063, 0.0056, 0.0054, 0.0040, 0.0013, 0.0012, 0.0040, 0.0065, 0.0079, 0.0080, 0.0079, 0.0077, 0.0035, 0.0004, 0.0001, 0.0002, 0.0006, 0.0014, 0.0025, 0.0038, 0.0049, 0.0058, 0.0064, 0.0066, 0.0057, 0.0046, 0.0040, 0.0033, 0.0036, 0.0075, 0.0097, 0.0101, 0.0103, 0.0104, 0.0098, 0.0075, 0.0010, 0.0001, 0.0001, 0.0002, 0.0005, 0.0008, 0.0006, 0.0002]
tau_wrfm = [0.0016, 0.0015, 0.0014, 0.0012, 0.0008, 0.0005, 0.0003, 0.0004, 0.0006, 0.0005, 0.0004, 0.0003, 0.0002, 0.0002, 0.0001, 0.0001,
            0.0001, 0.0002, 0.0001, 0.0001, 0.0002, 0.0001, 0.0001, 0.0002, 0.0001, 0.0001, 0.0002, 0.0001, 0.0002, 0.0003, 0.0002, 0.0002,
            0.0003, 0.0004, 0.0005, 0.0006, 0.0008, 0.0010, 0.0014, 0.0018, 0.0022, 0.0028, 0.0034, 0.0030, 0.0042, 0.0048, 0.0040, 0.0052,
            0.0060, 0.0090, 0.0125, 0.0060, 0.0050, 0.0078, 0.0095, 0.0062, 0.0058, 0.0102, 0.0070, 0.0055, 0.0068, 0.0090, 0.0062, 0.0075,
            0.0050, 0.0085, 0.0070, 0.0042, 0.0030, 0.0012, 0.0008, 0.0004, 0.0003, 0.0002, 0.0002, 0.0002, 0.0002, 0.0003, 0.0003, 0.0002,
            0.0002, 0.0003, 0.0004, 0.0006, 0.0008, 0.0012, 0.0015, 0.0018, 0.0022, 0.0030, 0.0045, 0.0020, 0.0012, 0.0008, 0.0006, 0.0004,
            0.0003, 0.0002, 0.0002, 0.0003, 0.0003, 0.0002, 0.0004, 0.0006, 0.0004, 0.0003, 0.0050, 0.0008, 0.0004, 0.0002, 0.0002, 0.0001,
            0.0001, 0.0002, 0.0001, 0.0001, 0.0002, 0.0001, 0.0001, 0.0002, 0.0001, 0.0002, 0.0001, 0.0001, 0.0002, 0.0001, 0.0002, 0.0002,
            0.0002, 0.0003, 0.0003, 0.0004, 0.0004, 0.0006, 0.0008, 0.0012, 0.0010, 0.0015, 0.0020, 0.0018, 0.0025, 0.0035, 0.0045, 0.0030,
            0.0030, 0.0065, 0.0080, 0.0045, 0.0035, 0.0075, 0.0055, 0.0040, 0.0060, 0.0090, 0.0050, 0.0070, 0.0045, 0.0080, 0.0060, 0.0055,
            0.0050, 0.0085, 0.0060, 0.0040, 0.0015, 0.0006, 0.0003, 0.0004, 0.0008, 0.0006, 0.0005, 0.0008, 0.0010, 0.0007, 0.0009, 0.0008,
            0.0006, 0.0008, 0.0007, 0.0009, 0.0010, 0.0012, 0.0011, 0.0013, 0.0010, 0.0014, 0.0016, 0.0012, 0.0008, 0.0003, 0.0002, 0.0002, 0.0002]
tau_amesl = [0.0003, 0.0003, 0.0002, 0.0002, 0.0003, 0.0004, 0.0004, 0.0005, 0.0006, 0.0012, 0.0019, 0.0024, 0.0038, 0.0055, 0.0073, 0.0086, 0.0088, 0.0078, 0.0032, 0.0004, 0.0001, 0.0001, 0.0001, 0.0001, 0.0001, 0.0001, 0.0001, 0.0001, 0.0001, 0.0002, 0.0003, 0.0006, 0.0012, 0.0030, 0.0022, 0.0027, 0.0040, 0.0055, 0.0071, 0.0080, 0.0074, 0.0030, 0.0004, 0.0001, 0.0001, 0.0002, 0.0003, 0.0004, 0.0004]
tau_amesh = [0.0005, 0.0005, 0.0004, 0.0004, 0.0005, 0.0004, 0.0003, 0.0003, 0.0003, 0.0006, 0.0010, 0.0015, 0.0023, 0.0033, 0.0038, 0.0039, 0.0045, 0.0025, 0.0002, 0.0001, 0.0001, 0.0001, 0.0001, 0.0001, 0.0001, 0.0001, 0.0001, 0.0001, 0.0001, 0.0001, 0.0001, 0.0001, 0.0001, 0.0002, 0.0007, 0.0012, 0.0016, 0.0020, 0.0022, 0.0024, 0.0020, 0.0003, 0.0001, 0.0001, 0.0001, 0.0001, 0.0001, 0.0001, 0.0001]
tau_lmd = [0.0001, 0.0001, 0.0002, 0.0002, 0.0003, 0.0005, 0.0007, 0.0012, 0.0030, 0.0032, 0.0018, 0.0013, 0.0017, 0.0020, 0.0025, 0.0030, 0.0036, 0.0020, 0.0011, 0.0008, 0.0006, 0.0005, 0.0003, 0.0002, 0.0001, 0.0001, 0.0001, 0.0001, 0.0001, 0.0001, 0.0001, 0.0001, 0.0001, 0.0002, 0.0004, 0.0007, 0.0013, 0.0025, 0.0035, 0.0040, 0.0043, 0.0018, 0.0020, 0.0021, 0.0019, 0.0010, 0.0007, 0.0004, 0.0003]

LW = 1.3


def break_wraps(t, d, jump=120):
    # do not join points across the 0/360 wrap of the direction
    t = np.asarray(t, float)
    d = np.asarray(d, float)
    cut = np.where(np.abs(np.diff(d)) > jump)[0] + 1
    return np.insert(t, cut, np.nan), np.insert(d, cut, np.nan)


def setup(ax, title, ylim, yticks, yminor, fmt=None):
    ax.set_xlim(0, 48)
    ax.set_ylim(*ylim)
    ax.set_xticks(np.arange(0, 49, 4))
    ax.xaxis.set_minor_locator(AutoMinorLocator(4))
    ax.set_yticks(yticks)
    ax.yaxis.set_minor_locator(AutoMinorLocator(yminor))
    if fmt:
        ax.yaxis.set_major_formatter(FormatStrFormatter(fmt))
    ax.tick_params(which='both', direction='in', top=True, right=True, width=1.0)
    ax.tick_params(which='major', length=5, pad=3)
    ax.tick_params(which='minor', length=2.5)
    for s in ax.spines.values():
        s.set_linewidth(1.1)
    ax.set_title(title, fontsize=8.2, pad=3)


fig = plt.figure(figsize=(6.85, 7.08), dpi=100)
W = 685.0
H = 708.0
left_cols = [32 / W, 387 / W]
widths = [291 / W, 292 / W]
rows = [(13, 144), (192, 322), (368, 500), (547, 678)]
axs = []
for top, bot in rows:
    for j in range(2):
        axs.append(fig.add_axes([left_cols[j], 1 - bot / H, widths[j], (bot - top) / H]))
ax_a, ax_b, ax_c, ax_d, ax_e, ax_f, ax_g, ax_h = axs

# (a)
for y, c in [(psa_mrams, c_mrams), (psa_wrfm, c_wrfm), (psa_wrfg, c_wrfg), (psa_lmd, c_lmd),
             (psa_amesh, c_amesh), (psa_amesl, c_amesl), (psa_omars, c_omars), (psa_gem, c_gem)]:
    ax_a.plot(psa_t, y, color=c, lw=LW)
setup(ax_a, '(a) Surface pressure (Pa)', (615, 833), [650, 700, 750, 800], 5)

# (b)
for y, c in [(psp_mrams, c_mrams), (psp_wrfm, c_wrfm), (psp_wrfg, c_wrfg), (psp_lmd, c_lmd),
             (psp_amesh, c_amesh), (psp_amesl, c_amesl), (psp_omars, c_omars), (psp_gem, c_gem)]:
    ax_b.plot(psp_t, y, color=c, lw=LW)
setup(ax_b, '(b) Surface pressure (%)', (-4.2, 3.55), [-4, -2, 0, 2], 4)

# (c)
for y, c in [(tsf_mrams, c_mrams), (tsf_amesl, c_amesl), (tsf_wrfm, c_wrfm), (tsf_wrfg, c_wrfg),
             (tsf_amesh, c_amesh), (tsf_gem, c_gem), (tsf_omars, c_omars), (tsf_lmd, c_lmd)]:
    ax_c.plot(tsf_t, y, color=c, lw=LW)
setup(ax_c, '(c) Surface temperature (K)', (178, 290), [180, 200, 220, 240, 260, 280], 4)
leg_cols = [c_gem, c_omars, c_mrams, c_wrfg, c_wrfm, c_amesl, c_amesh, c_lmd]
leg_pos = [(0.034, 0.93), (0.034, 0.846), (0.034, 0.754),
           (0.416, 0.93), (0.416, 0.846), (0.416, 0.754), (0.416, 0.662), (0.416, 0.569)]
for name, c, (x, y) in zip(models, leg_cols, leg_pos):
    ax_c.text(x, y, name, color=c, transform=ax_c.transAxes, fontsize=7.6, va='center', ha='left')

# (d)
for y, c in [(tat_mrams, c_mrams), (tat_amesl, c_amesl), (tat_amesh, c_amesh), (tat_wrfm, c_wrfm),
             (tat_wrfg, c_wrfg), (tat_lmd, c_lmd), (tat_omars, c_omars), (tat_gem, c_gem)]:
    ax_d.plot(tat_t, y, color=c, lw=LW)
setup(ax_d, '(d) Atmospheric temperature (K)', (178, 264), [180, 200, 220, 240, 260], 4)

# (e)
ax_e.plot(tq, wnd_wrfm, color=c_wrfm, lw=0.9)
ax_e.plot(tq, wnd_mrams, color=c_mrams, lw=0.9)
for y, c in [(wnd_amesh, c_amesh), (wnd_lmd, c_lmd), (wnd_wrfg, c_wrfg), (wnd_amesl, c_amesl),
             (wnd_omars, c_omars), (wnd_gem, c_gem)]:
    ax_e.plot(t1, y, color=c, lw=LW)
setup(ax_e, '(e) Wind magnitude (m/s)', (-0.3, 15.1), np.arange(0, 15, 2), 4)

# (f)
ax_f.plot(dir_wrfm_t, dir_wrfm, 's', color=c_wrfm, ms=1.6, mew=0)
ax_f.plot(dir_mrams_t, dir_mrams, 's', color=c_mrams, ms=1.6, mew=0)
ax_f.plot(*break_wraps(t1, dir_amesh), ':', color=c_amesh, lw=1.4)
ax_f.plot(*break_wraps(t1, dir_amesl), ':', color=c_amesl, lw=1.4)
ax_f.plot(*break_wraps(t1, dir_gem), ':', color='#333333', lw=1.3)
ax_f.plot(t1, dir_wrfg, 's', color=c_wrfg, ms=3.2, mew=0)
ax_f.plot(dir_lmd_t, dir_lmd, '-', color=c_lmd, lw=1.5)
ax_f.plot(t1, dir_omars, 's', color=c_omars, ms=4.2, mew=0)
setup(ax_f, '(f) Direction wind is from (deg)', (-8, 369), np.arange(0, 361, 45), 3)

# (g)
for y, c in [(rho_mrams, c_mrams), (rho_amesl, c_amesl), (rho_wrfm, c_wrfm), (rho_wrfg, c_wrfg),
             (rho_lmd, c_lmd), (rho_gem, c_gem), (rho_omars, c_omars), (rho_amesh, c_amesh)]:
    ax_g.plot(rho_t, y, color=c, lw=LW)
setup(ax_g, '(g) Atmospheric density (kg/m3)', (0.0116, 0.0243),
      [0.012, 0.014, 0.016, 0.018, 0.020, 0.022, 0.024], 4, '%.3f')
ax_g.set_xlabel('Local true solar time (hr)', fontsize=8.2, labelpad=1)

# (h)
ax_h.plot(tq, tau_wrfm, color=c_wrfm, lw=0.9)
ax_h.plot(tq, tau_mrams, color=c_mrams, lw=0.9)
for y, c in [(tau_amesh, c_amesh), (tau_lmd, c_lmd), (tau_amesl, c_amesl), (tau_wrfg, c_wrfg),
             (tau_omars, c_omars), (tau_gem, c_gem)]:
    ax_h.plot(t1, y, color=c, lw=LW)
setup(ax_h, '(h) Wind stress (Pa)', (-0.0006, 0.022), [0.0, 0.005, 0.010, 0.015, 0.020], 5, '%.3f')
ax_h.set_xlabel('Local true solar time (hr)', fontsize=8.2, labelpad=1)

fig.savefig('out.png', dpi=100)
